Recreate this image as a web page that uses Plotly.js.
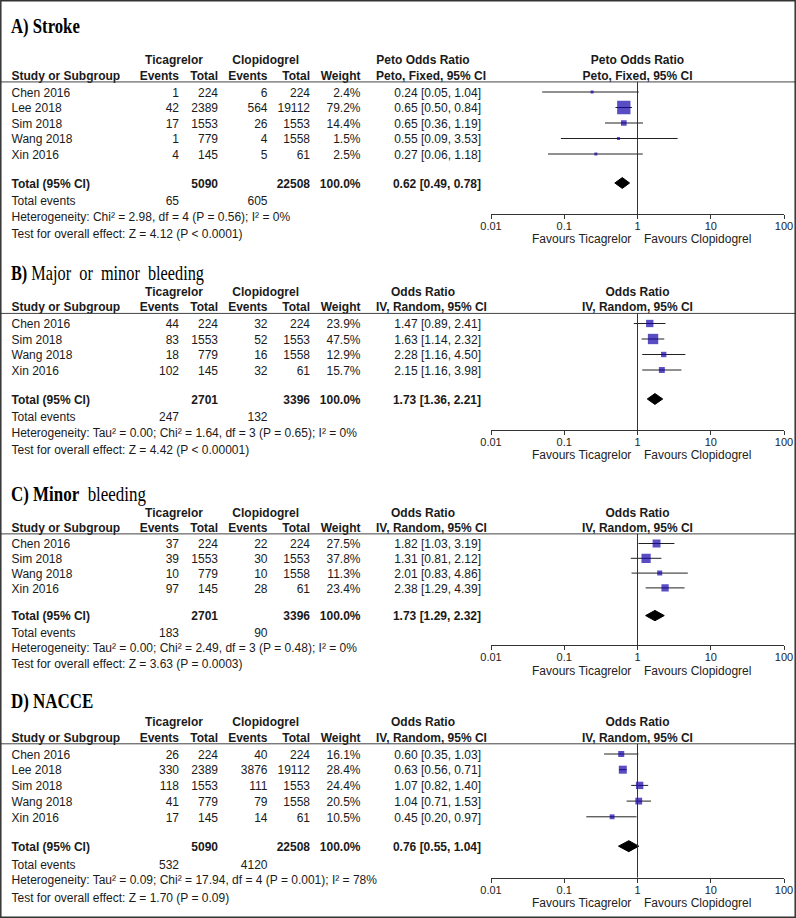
<!DOCTYPE html>
<html>
<head>
<meta charset="utf-8">
<script src="https://cdn.plot.ly/plotly-3.0.1.min.js"></script>
<style>
  html, body { margin: 0; padding: 0; background: #fff; }
  #chart { width: 796px; height: 918px; }
</style>
</head>
<body>
<div id="chart"></div>
<script>
// A) Stroke
const strokeStudy = ["Chen 2016", "Lee 2018", "Sim 2018", "Wang 2018", "Xin 2016"];
const strokeTicEvents = [1, 42, 17, 1, 4];
const strokeTicTotal = [224, 2389, 1553, 779, 145];
const strokeCloEvents = [6, 564, 26, 4, 5];
const strokeCloTotal = [224, 19112, 1553, 1558, 61];
const strokeWeight = [2.4, 79.2, 14.4, 1.5, 2.5];
const strokeOR = [0.24, 0.65, 0.65, 0.55, 0.27];
const strokeLow = [0.05, 0.50, 0.36, 0.09, 0.06];
const strokeHigh = [1.04, 0.84, 1.19, 3.53, 1.18];
const strokePooled = [0.62, 0.49, 0.78]; // estimate, low, high
const strokeTotals = [5090, 22508];
const strokeEvents = [65, 605];
const strokeStats = ["Heterogeneity: Chi² = 2.98, df = 4 (P = 0.56); I² = 0%",
                     "Test for overall effect: Z = 4.12 (P < 0.0001)"];

// B) Major or minor bleeding
const majorStudy = ["Chen 2016", "Sim 2018", "Wang 2018", "Xin 2016"];
const majorTicEvents = [44, 83, 18, 102];
const majorTicTotal = [224, 1553, 779, 145];
const majorCloEvents = [32, 52, 16, 32];
const majorCloTotal = [224, 1553, 1558, 61];
const majorWeight = [23.9, 47.5, 12.9, 15.7];
const majorOR = [1.47, 1.63, 2.28, 2.15];
const majorLow = [0.89, 1.14, 1.16, 1.16];
const majorHigh = [2.41, 2.32, 4.50, 3.98];
const majorPooled = [1.73, 1.36, 2.21];
const majorTotals = [2701, 3396];
const majorEvents = [247, 132];
const majorStats = ["Heterogeneity: Tau² = 0.00; Chi² = 1.64, df = 3 (P = 0.65); I² = 0%",
                    "Test for overall effect: Z = 4.42 (P < 0.00001)"];

// C) Minor bleeding
const minorStudy = ["Chen 2016", "Sim 2018", "Wang 2018", "Xin 2016"];
const minorTicEvents = [37, 39, 10, 97];
const minorTicTotal = [224, 1553, 779, 145];
const minorCloEvents = [22, 30, 10, 28];
const minorCloTotal = [224, 1553, 1558, 61];
const minorWeight = [27.5, 37.8, 11.3, 23.4];
const minorOR = [1.82, 1.31, 2.01, 2.38];
const minorLow = [1.03, 0.81, 0.83, 1.29];
const minorHigh = [3.19, 2.12, 4.86, 4.39];
const minorPooled = [1.73, 1.29, 2.32];
const minorTotals = [2701, 3396];
const minorEvents = [183, 90];
const minorStats = ["Heterogeneity: Tau² = 0.00; Chi² = 2.49, df = 3 (P = 0.48); I² = 0%",
                    "Test for overall effect: Z = 3.63 (P = 0.0003)"];

// D) NACCE
const nacceStudy = ["Chen 2016", "Lee 2018", "Sim 2018", "Wang 2018", "Xin 2016"];
const nacceTicEvents = [26, 330, 118, 41, 17];
const nacceTicTotal = [224, 2389, 1553, 779, 145];
const nacceCloEvents = [40, 3876, 111, 79, 14];
const nacceCloTotal = [224, 19112, 1553, 1558, 61];
const nacceWeight = [16.1, 28.4, 24.4, 20.5, 10.5];
const nacceOR = [0.60, 0.63, 1.07, 1.04, 0.45];
const nacceLow = [0.35, 0.56, 0.82, 0.71, 0.20];
const nacceHigh = [1.03, 0.71, 1.40, 1.53, 0.97];
const naccePooled = [0.76, 0.55, 1.04];
const nacceTotals = [5090, 22508];
const nacceEvents = [532, 4120];
const nacceStats = ["Heterogeneity: Tau² = 0.09; Chi² = 17.94, df = 4 (P = 0.001); I² = 78%",
                    "Test for overall effect: Z = 1.70 (P = 0.09)"];

const axisTicks = [0.01, 0.1, 1, 10, 100];
const axisTickText = ["0.01", "0.1", "1", "10", "100"];

// page geometry (pixels)
const W = 796, H = 918;
const FONT = "Liberation Sans, Arial, sans-serif";
const INK = "#1a1a1a";
const colX = {study: 11.5, ticEv: 179, ticN: 218, cloEv: 267.5, cloN: 310, weight: 360.5,
              or: 481, ticHead: 174, cloHead: 265.7, orHead1: 423, orHead2: 376};
const plotLeft = 491, plotRight = 784;
const textDrop = 1.8;   // plotly centres text a bit high
const favDrop = 25.5;   // "Favours" line below the axis

const panels = [
  {title: "<b>A) Stroke</b>", squeeze: 0.76, titleRow: -4.32, row0: 92, step: 15.5,
   method: ["Peto Odds Ratio", "Peto, Fixed, 95% CI"],
   study: strokeStudy, ticEv: strokeTicEvents, ticN: strokeTicTotal, cloEv: strokeCloEvents,
   cloN: strokeCloTotal, weight: strokeWeight, or: strokeOR, low: strokeLow, high: strokeHigh,
   pooled: strokePooled, totals: strokeTotals, events: strokeEvents, stats: strokeStats},
  {title: "<b>B)</b> Major  or  minor  bleeding", squeeze: 0.74, titleRow: -3.26, row0: 323.5, step: 15.5,
   method: ["Odds Ratio", "IV, Random, 95% CI"],
   study: majorStudy, ticEv: majorTicEvents, ticN: majorTicTotal, cloEv: majorCloEvents,
   cloN: majorCloTotal, weight: majorWeight, or: majorOR, low: majorLow, high: majorHigh,
   pooled: majorPooled, totals: majorTotals, events: majorEvents, stats: majorStats},
  {title: "<b>C) Minor</b>  bleeding", squeeze: 0.77, titleRow: -3.41, row0: 543.5, step: 14.8,
   method: ["Odds Ratio", "IV, Random, 95% CI"],
   study: minorStudy, ticEv: minorTicEvents, ticN: minorTicTotal, cloEv: minorCloEvents,
   cloN: minorCloTotal, weight: minorWeight, or: minorOR, low: minorLow, high: minorHigh,
   pooled: minorPooled, totals: minorTotals, events: minorEvents, stats: minorStats},
  {title: "<b>D) NACCE</b>", squeeze: 0.77, titleRow: -3.39, row0: 754, step: 15.7,
   method: ["Odds Ratio", "IV, Random, 95% CI"],
   study: nacceStudy, ticEv: nacceTicEvents, ticN: nacceTicTotal, cloEv: nacceCloEvents,
   cloN: nacceCloTotal, weight: nacceWeight, or: nacceOR, low: nacceLow, high: nacceHigh,
   pooled: naccePooled, totals: nacceTotals, events: nacceEvents, stats: nacceStats}
];

const traces = [];
const annotations = [];
const shapes = [];
const layout = {
  width: W, height: H,
  margin: {l: 0, r: 0, t: 0, b: 0, pad: 0},
  paper_bgcolor: "#fff", plot_bgcolor: "rgba(0,0,0,0)",
  showlegend: false, hovermode: false,
  font: {family: FONT, size: 12, color: INK},
  // hidden linear axis used to place the table columns
  xaxis: {domain: [0, 1], range: [0, W], visible: false, fixedrange: true}
};

function fmt(v) { return v.toFixed(2); }
function ci(e, l, h) { return fmt(e) + " [" + fmt(l) + ", " + fmt(h) + "]"; }

panels.forEach(function (p, k) {
  const n = p.study.length;
  const yid = k === 0 ? "y" : "y" + (k + 1);
  const yname = k === 0 ? "yaxis" : "yaxis" + (k + 1);
  const xid = "x" + (k + 2);
  const xname = "xaxis" + (k + 2);
  const tickName = "xaxis" + (k + 6);   // second copy of the axis for the upward half of the ticks

  const rows = p.study.map(function (s, i) { return i; });
  const totalRow = n + 0.87, eventsRow = n + 2.0, hetRow = n + 3.0, testRow = n + 4.1;
  const head1 = -2.1, head2 = -1.1, ruleRow = -0.65;
  const axisRow = n + 2.87, favRow = axisRow + favDrop / p.step;
  const topRow = -5.5, bottomRow = n + 5;
  const dt = textDrop / p.step;
  function px(r) { return p.row0 + r * p.step; }

  layout[yname] = {domain: [1 - px(bottomRow) / H, 1 - px(topRow) / H],
                   range: [bottomRow, topRow], visible: false, fixedrange: true};
  const axisBase = {
    type: "log", range: [-2, 2], domain: [plotLeft / W, plotRight / W],
    anchor: "free", position: 1 - px(axisRow) / H,
    tickvals: axisTicks, tickcolor: "#333", tickwidth: 1,
    showgrid: false, zeroline: false, fixedrange: true
  };
  layout[xname] = Object.assign({}, axisBase, {
    ticktext: axisTickText, ticks: "outside", ticklen: 4, ticklabelstandoff: -2,
    showline: true, linecolor: "#333", linewidth: 1,
    tickfont: {family: FONT, size: 11, color: "#222"}
  });
  layout[tickName] = Object.assign({}, axisBase, {
    overlaying: xid, ticks: "inside", ticklen: 4, showticklabels: false, showline: false
  });

  // table text
  const cells = {x: [], y: [], text: [], pos: []};
  function cell(x, y, text, align) {
    cells.x.push(x); cells.y.push(y + dt); cells.text.push(text);
    cells.pos.push(align === "l" ? "middle right" : align === "r" ? "middle left" : "middle center");
  }
  cell(colX.ticHead, head1, "<b>Ticagrelor</b>", "c");
  cell(colX.cloHead, head1, "<b>Clopidogrel</b>", "c");
  cell(colX.orHead1, head1, "<b>" + p.method[0] + "</b>", "c");
  cell(colX.study, head2, "<b>Study or Subgroup</b>", "l");
  cell(colX.ticEv, head2, "<b>Events</b>", "r");
  cell(colX.ticN, head2, "<b>Total</b>", "r");
  cell(colX.cloEv, head2, "<b>Events</b>", "r");
  cell(colX.cloN, head2, "<b>Total</b>", "r");
  cell(colX.weight, head2, "<b>Weight</b>", "r");
  cell(colX.orHead2, head2, "<b>" + p.method[1] + "</b>", "l");
  rows.forEach(function (i) {
    cell(colX.study, i, p.study[i], "l");
    cell(colX.ticEv, i, String(p.ticEv[i]), "r");
    cell(colX.ticN, i, String(p.ticN[i]), "r");
    cell(colX.cloEv, i, String(p.cloEv[i]), "r");
    cell(colX.cloN, i, String(p.cloN[i]), "r");
    cell(colX.weight, i, p.weight[i].toFixed(1) + "%", "r");
    cell(colX.or, i, ci(p.or[i], p.low[i], p.high[i]), "r");
  });
  cell(colX.study, totalRow, "<b>Total (95% CI)</b>", "l");
  cell(colX.ticN, totalRow, "<b>" + p.totals[0] + "</b>", "r");
  cell(colX.cloN, totalRow, "<b>" + p.totals[1] + "</b>", "r");
  cell(colX.weight, totalRow, "<b>100.0%</b>", "r");
  cell(colX.or, totalRow, "<b>" + ci(p.pooled[0], p.pooled[1], p.pooled[2]) + "</b>", "r");
  cell(colX.study, eventsRow, "Total events", "l");
  cell(colX.ticEv, eventsRow, String(p.events[0]), "r");
  cell(colX.cloEv, eventsRow, String(p.events[1]), "r");
  cell(colX.study, hetRow, p.stats[0], "l");
  cell(colX.study, testRow, p.stats[1], "l");
  traces.push({type: "scatter", mode: "text", x: cells.x, y: cells.y, text: cells.text,
               textposition: cells.pos, textfont: {family: FONT, size: 12, color: INK},
               xaxis: "x", yaxis: yid, cliponaxis: false, hoverinfo: "skip"});

  // forest plot header
  traces.push({type: "scatter", mode: "text", x: [1, 1], y: [head1 + dt, head2 + dt],
               text: ["<b>" + p.method[0] + "</b>", "<b>" + p.method[1] + "</b>"],
               textposition: "middle center", textfont: {family: FONT, size: 12, color: INK},
               xaxis: xid, yaxis: yid, cliponaxis: false, hoverinfo: "skip"});

  // confidence intervals
  const ciX = [], ciY = [];
  rows.forEach(function (i) { ciX.push(p.low[i], p.high[i], null); ciY.push(i, i, null); });
  traces.push({type: "scatter", mode: "lines", x: ciX, y: ciY, xaxis: xid, yaxis: yid,
               line: {color: "#222", width: 1}, hoverinfo: "skip"});
  // study estimates, box size from weight
  traces.push({type: "scatter", mode: "markers", x: p.or, y: rows, xaxis: xid, yaxis: yid,
               marker: {symbol: "square", color: "#1400a8", line: {width: 0},
                        size: p.weight.map(function (w) { return Math.max(3, 1.5 * Math.sqrt(w)); })},
               hoverinfo: "skip"});
  // pooled diamond
  const e = p.pooled;
  traces.push({type: "scatter", mode: "lines", fill: "toself", fillcolor: "#000",
               x: [e[1], e[0], e[2], e[0], e[1]],
               y: [totalRow, totalRow - 0.35, totalRow, totalRow + 0.35, totalRow],
               xaxis: xid, yaxis: yid, line: {color: "#000", width: 1}, hoverinfo: "skip"});

  // rule under the header and line of no effect
  shapes.push({type: "line", xref: "paper", x0: 0, x1: 1, yref: yid, y0: ruleRow, y1: ruleRow,
               line: {color: "#444", width: 1}});
  shapes.push({type: "line", xref: xid, x0: 1, x1: 1, yref: yid, y0: ruleRow, y1: axisRow,
               line: {color: "#333", width: 1}});

  annotations.push({xref: "paper", x: 11 / W, xanchor: "left", align: "left",
                    yref: yid, y: p.titleRow, yanchor: "middle", showarrow: false,
                    borderpad: 0, borderwidth: 0, text: p.title,
                    font: {family: "Liberation Serif, Times New Roman, serif", size: 22, color: "#000"}});
  annotations.push({xref: xid, x: 0, xanchor: "right", xshift: -7, yref: yid, y: favRow,
                    showarrow: false, borderpad: 0, borderwidth: 0, text: "Favours Ticagrelor",
                    font: {family: FONT, size: 12, color: "#222"}});
  annotations.push({xref: xid, x: 0, xanchor: "left", xshift: 6, yref: yid, y: favRow,
                    showarrow: false, borderpad: 0, borderwidth: 0, text: "Favours Clopidogrel",
                    font: {family: FONT, size: 12, color: "#222"}});
});

// frame around the whole figure
shapes.push({type: "rect", xref: "paper", yref: "paper", x0: 0.8 / W, x1: 1 - 0.8 / W,
             y0: 0.8 / H, y1: 1 - 0.8 / H, line: {color: "#333", width: 1.5}});

layout.shapes = shapes;
layout.annotations = annotations;

Plotly.newPlot("chart", traces, layout, {staticPlot: true, displayModeBar: false}).then(function () {
  // titles in the reference are set in a condensed face
  const squeeze = {"A)": panels[0].squeeze, "B)": panels[1].squeeze, "C)": panels[2].squeeze, "D)": panels[3].squeeze};
  document.querySelectorAll("#chart .annotation-text").forEach(function (t) {
    const key = t.textContent.slice(0, 2);
    if (!(key in squeeze)) return;
    const b = t.getBBox();
    t.setAttribute("transform", "translate(" + b.x + ",0) scale(" + squeeze[key] + ",1) translate(" + (-b.x) + ",0)");
  });
});
</script>
</body>
</html>
